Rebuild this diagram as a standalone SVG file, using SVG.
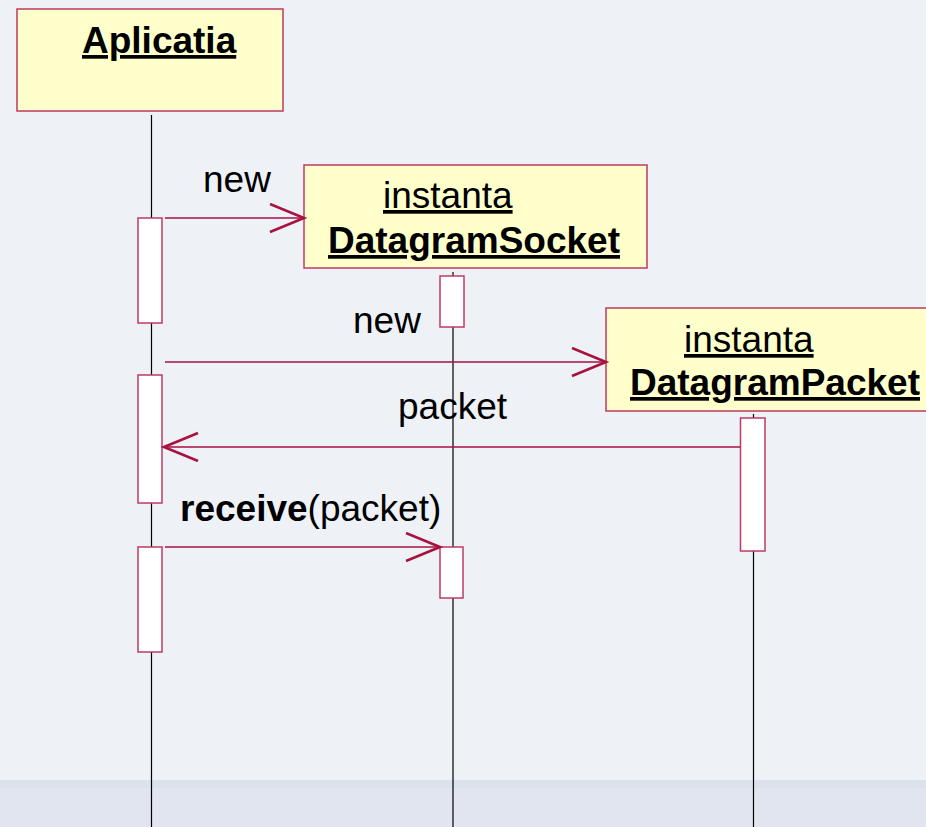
<svg xmlns="http://www.w3.org/2000/svg" width="926" height="827" viewBox="0 0 926 827">
<style>
.bg{fill:#eef1f6}
.band{fill:#e0e5ef}
.obj{fill:#ffffcc;stroke:#c03a62;stroke-width:1.5}
.act{fill:#ffffff;stroke:#c03a62;stroke-width:1.5}
.life{stroke:#000;stroke-width:1.2;fill:none}
.msg{stroke:#a8123f;stroke-width:1.5;fill:none}
.t{font-family:"Liberation Sans",Arial,sans-serif;font-size:37px;fill:#000}
.b{font-weight:bold}
.u{text-decoration:underline;text-decoration-thickness:2px}
.b.u{text-decoration-thickness:3.5px}
</style>
<defs>
<marker id="open" markerWidth="40" markerHeight="32" refX="36" refY="15" orient="auto" markerUnits="userSpaceOnUse">
<path d="M2,1 L36,15 L2,29" fill="none" stroke="#a8123f" stroke-width="2.6"/>
</marker>
</defs>
<rect class="bg" x="0" y="0" width="926" height="827"/>
<rect class="band" x="0" y="780" width="926" height="47"/>
<rect x="0" y="780" width="926" height="8" fill="#dce2ec"/>

<g id="lifelines">
<line class="life" x1="151.5" y1="115" x2="151.5" y2="827"/>
<line class="life" x1="453" y1="272" x2="453" y2="827"/>
<line class="life" x1="753.5" y1="414" x2="753.5" y2="827"/>
</g>

<g id="aplicatia">
<rect class="obj" x="17" y="9" width="266" height="102"/>
<text class="t b u" x="82" y="53">Aplicatia</text>
</g>

<g id="datagramsocket">
<rect class="obj" x="304" y="165" width="343" height="103"/>
<text class="t u" x="383" y="208">instanta</text>
<text class="t b u" x="328" y="253">DatagramSocket</text>
</g>

<g id="datagrampacket">
<rect class="obj" x="606" y="308" width="330" height="103"/>
<text class="t u" x="684" y="352">instanta</text>
<text class="t b u" x="630" y="395">DatagramPacket</text>
</g>

<g id="activations">
<rect class="act" x="138" y="218" width="24" height="105"/>
<rect class="act" x="138" y="375" width="24" height="128"/>
<rect class="act" x="138" y="547" width="24" height="105"/>
<rect class="act" x="440" y="276" width="24" height="51"/>
<rect class="act" x="440" y="547" width="23" height="51"/>
<rect class="act" x="740.5" y="418" width="24.5" height="133"/>
</g>

<g id="connectors">
<line class="msg" x1="165" y1="218" x2="304" y2="218" marker-end="url(#open)"/>
<line class="msg" x1="165" y1="362" x2="606" y2="362" marker-end="url(#open)"/>
<line class="msg" x1="740" y1="447" x2="164" y2="447" marker-end="url(#open)"/>
<line class="msg" x1="165" y1="547" x2="440" y2="547" marker-end="url(#open)"/>
</g>

<g id="labels">
<text class="t" x="203" y="192">new</text>
<text class="t" x="353" y="333">new</text>
<text class="t" x="398" y="419">packet</text>
<text class="t" x="180" y="521"><tspan class="b">receive</tspan>(packet)</text>
</g>
</svg>
